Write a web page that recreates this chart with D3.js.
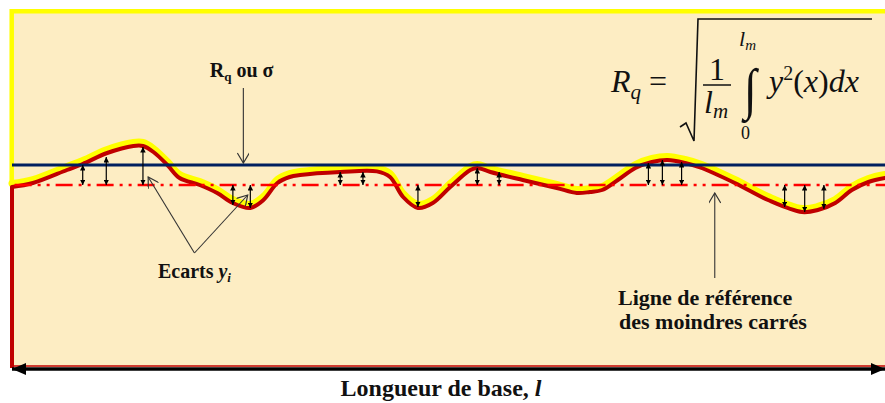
<!DOCTYPE html>
<html>
<head>
<meta charset="utf-8">
<script src="https://cdn.jsdelivr.net/npm/d3@7"></script>
<style>
  body { margin: 0; background: #fff; }
  svg { display: block; }
  text { font-family: "Liberation Serif", "Times New Roman", serif; }
</style>
</head>
<body>
<div id="chart"></div>
<script>
// profile : position along the base length (% of l) and height from the mean line
var profileX = [0, 2.4, 6.3, 8.1, 10.9, 13.9, 15.0, 16.2, 17.8, 19.2, 21.5, 23.5, 25.3, 27.3, 28.8,
                30.4, 31.8, 33.0, 37.6, 41.8, 43.3, 44.8, 46.5, 48.2, 50.2, 52.5, 53.3, 54.8, 58.5,
                62.4, 64.7, 66.2, 67.6, 69.4, 71.4, 73.3, 75.1, 77.1, 79.0, 82.8, 86.6, 90.5, 92.3,
                94.3, 96.2, 98.1, 100];
var profileY = [-0.5, 0.5, 3.75, 5.25, 8, 9.75, 9.75, 8.25, 5, 1.75, 0, -2, -4.5, -5.75, -3.75,
                0.5, 2, 2.5, 3.25, 3.4, 2, -3, -5.75, -4.5, -0.5, 3.75, 4.25, 3.25, 1.25,
                -0.75, -2, -1.75, -1.25, 1.25, 4.25, 5.75, 6.25, 5.5, 4.25, 0.5, -3.75, -6.75, -6.25,
                -4.5, -1.25, 0.75, 1.75];

// ecarts y_i drawn as small double arrows
var ecartX = [8.1, 10.8, 15.0, 25.3, 27.3, 37.6, 40.2, 46.5, 53.3, 55.8, 72.9, 74.5, 76.7, 88.5, 90.8, 93.0];
var ecartY = [5, 7, 9.5, -5, -5.75, 3.25, 3.25, -5.5, 4.25, 3.25, 5.5, 6.25, 5.75, -5.5, -6.75, -6];

var rqLevel = 5;   // R_q line
var refLevel = 0;  // mean line (least squares)

var W = 885, H = 403;

var svg = d3.select("#chart").append("svg")
    .attr("width", W)
    .attr("height", H);

var x = d3.scaleLinear().domain([0, 100]).range([12, 885]);
var y = d3.scaleLinear().domain([-10, 10]).range([225, 145]);

var defs = svg.append("defs");

// small filled arrow head
defs.append("marker")
    .attr("id", "head")
    .attr("viewBox", "0 0 10 10")
    .attr("refX", 10).attr("refY", 5)
    .attr("markerWidth", 5.5).attr("markerHeight", 5.5)
    .attr("markerUnits", "userSpaceOnUse")
    .attr("orient", "auto-start-reverse")
  .append("path")
    .attr("d", "M0,0L10,5L0,10z")
    .attr("fill", "#000");

// open pointer head
defs.append("marker")
    .attr("id", "open")
    .attr("viewBox", "0 0 12 12")
    .attr("refX", 11).attr("refY", 6)
    .attr("markerWidth", 12).attr("markerHeight", 12)
    .attr("markerUnits", "userSpaceOnUse")
    .attr("orient", "auto")
  .append("path")
    .attr("d", "M1,0L11,6L1,12")
    .attr("fill", "none")
    .attr("stroke", "#333")
    .attr("stroke-width", 1.2);

// big head for the base length arrow
defs.append("marker")
    .attr("id", "big")
    .attr("viewBox", "0 0 14 12")
    .attr("refX", 14).attr("refY", 6)
    .attr("markerWidth", 14).attr("markerHeight", 12)
    .attr("markerUnits", "userSpaceOnUse")
    .attr("orient", "auto-start-reverse")
  .append("path")
    .attr("d", "M0,0L14,6L0,12z")
    .attr("fill", "#000");

// panel
svg.append("rect")
    .attr("x", 12).attr("y", 11)
    .attr("width", W - 12).attr("height", 356)
    .attr("fill", "#FDEDC3");

// upper frame (yellow) and lower frame (red)
svg.append("path")
    .attr("d", "M11.7," + (y(profileY[0]) - 3.5) + "V11.2H" + W)
    .attr("fill", "none")
    .attr("stroke", "#FFFF00")
    .attr("stroke-width", 4.5);

svg.append("path")
    .attr("d", "M12," + y(profileY[0]) + "V368")
    .attr("fill", "none")
    .attr("stroke", "#C00000")
    .attr("stroke-width", 4);

svg.append("line")
    .attr("x1", 12).attr("x2", W)
    .attr("y1", 366).attr("y2", 366)
    .attr("stroke", "#C00000")
    .attr("stroke-width", 1.5);

// profile
var pts = d3.range(profileX.length).map(function(i) { return [profileX[i], profileY[i]]; });

var line = d3.line()
    .x(function(d) { return x(d[0]); })
    .y(function(d) { return y(d[1]); })
    .curve(d3.curveCatmullRom.alpha(0.5));

svg.append("path")
    .datum(pts)
    .attr("d", line)
    .attr("transform", "translate(0,-3.5)")
    .attr("fill", "none")
    .attr("stroke", "#FFFF00")
    .attr("stroke-width", 7)
    .attr("stroke-linecap", "round");

svg.append("path")
    .datum(pts)
    .attr("d", line)
    .attr("fill", "none")
    .attr("stroke", "#C00000")
    .attr("stroke-width", 4)
    .attr("stroke-linecap", "round");

// mean line
svg.append("line")
    .attr("x1", x(0.3)).attr("x2", W)
    .attr("y1", y(refLevel)).attr("y2", y(refLevel))
    .attr("stroke", "#FF0000")
    .attr("stroke-width", 2.5)
    .attr("stroke-dasharray", "17,6,3,6,3,6");

// R_q line
svg.append("line")
    .attr("x1", x(0)).attr("x2", W)
    .attr("y1", y(rqLevel)).attr("y2", y(rqLevel))
    .attr("stroke", "#002060")
    .attr("stroke-width", 3);

// ecarts
svg.selectAll(".ecart")
    .data(ecartX)
  .enter().append("line")
    .attr("class", "ecart")
    .attr("x1", function(d) { return x(d); })
    .attr("x2", function(d) { return x(d); })
    .attr("y1", y(refLevel))
    .attr("y2", function(d, i) { return y(ecartY[i]); })
    .attr("stroke", "#000")
    .attr("stroke-width", 1.2)
    .attr("marker-start", "url(#head)")
    .attr("marker-end", "url(#head)");

// pointers
function pointer(x1, y1, x2, y2) {
  svg.append("line")
      .attr("x1", x1).attr("y1", y1)
      .attr("x2", x2).attr("y2", y2)
      .attr("stroke", "#333")
      .attr("stroke-width", 1.1)
      .attr("marker-end", "url(#open)");
}
pointer(x(26.5), 88, x(26.5), y(rqLevel) - 2);
pointer(x(20.9), 253, x(15.6), y(2));
pointer(x(20.9), 253, x(27.0), y(-2.5));
pointer(x(80.5), 278, x(80.5), y(-2));

// labels
var rq = svg.append("text")
    .attr("x", x(26.3)).attr("y", 77)
    .attr("text-anchor", "middle")
    .attr("font-size", 20)
    .attr("font-weight", "bold")
    .attr("fill", "#111");
rq.append("tspan").text("R");
rq.append("tspan").attr("font-size", 13).attr("dy", 4).text("q");
rq.append("tspan").attr("dy", -4).text(" ou σ");

var ec = svg.append("text")
    .attr("x", x(20.9)).attr("y", 278)
    .attr("text-anchor", "middle")
    .attr("font-size", 20)
    .attr("font-weight", "bold")
    .attr("fill", "#111");
ec.append("tspan").text("Ecarts ");
ec.append("tspan").attr("font-style", "italic").text("y");
ec.append("tspan").attr("font-style", "italic").attr("font-size", 13).attr("dy", 4).text("i");

svg.append("text")
    .attr("x", 618).attr("y", 305)
    .attr("font-size", 22)
    .attr("font-weight", "bold")
    .attr("fill", "#111")
    .text("Ligne de référence");
svg.append("text")
    .attr("x", 619).attr("y", 329)
    .attr("font-size", 22)
    .attr("font-weight", "bold")
    .attr("fill", "#111")
    .text("des moindres carrés");

// base length
svg.append("line")
    .attr("x1", 12).attr("x2", W)
    .attr("y1", 369).attr("y2", 369)
    .attr("stroke", "#000")
    .attr("stroke-width", 3.5)
    .attr("marker-start", "url(#big)")
    .attr("marker-end", "url(#big)");

var base = svg.append("text")
    .attr("x", 441).attr("y", 396)
    .attr("text-anchor", "middle")
    .attr("font-size", 24)
    .attr("font-weight", "bold")
    .attr("fill", "#111");
base.append("tspan").text("Longueur de base, ");
base.append("tspan").attr("font-style", "italic").text("l");

// formula
var f = svg.append("g").attr("fill", "#111");

var r = f.append("text").attr("x", 611).attr("y", 92).attr("font-size", 32);
r.append("tspan").attr("font-style", "italic").text("R");
r.append("tspan").attr("font-style", "italic").attr("font-size", 21).attr("dy", 7).text("q");
f.append("text").attr("x", 649).attr("y", 92).attr("font-size", 32).text("=");

f.append("path")
    .attr("d", "M680,127L686,123L694,141L698,19H872")
    .attr("fill", "none")
    .attr("stroke", "#111")
    .attr("stroke-width", 1.6);

f.append("text").attr("x", 717).attr("y", 80).attr("text-anchor", "middle").attr("font-size", 32).text("1");
f.append("line").attr("x1", 703).attr("x2", 731).attr("y1", 85).attr("y2", 85)
    .attr("stroke", "#111").attr("stroke-width", 1.5);
var lm = f.append("text").attr("x", 704).attr("y", 113).attr("font-size", 32).attr("font-style", "italic");
lm.append("tspan").text("l");
lm.append("tspan").attr("font-size", 21).attr("dy", 5).text("m");

f.append("text")
    .attr("transform", "translate(750,108) scale(0.8,0.97)")
    .attr("text-anchor", "middle")
    .attr("font-size", 58).text("∫");
var up = f.append("text").attr("x", 739).attr("y", 46).attr("font-size", 22).attr("font-style", "italic");
up.append("tspan").text("l");
up.append("tspan").attr("font-size", 15).attr("dy", 4).text("m");
f.append("text").attr("x", 741).attr("y", 139).attr("font-size", 18).text("0");

var yx = f.append("text").attr("x", 769).attr("y", 92).attr("font-size", 32);
yx.append("tspan").attr("font-style", "italic").text("y");
yx.append("tspan").attr("font-size", 20).attr("dy", -12).text("2");
yx.append("tspan").attr("dy", 12).text("(");
yx.append("tspan").attr("font-style", "italic").text("x");
yx.append("tspan").text(")");
yx.append("tspan").attr("font-style", "italic").text("dx");
</script>
</body>
</html>
